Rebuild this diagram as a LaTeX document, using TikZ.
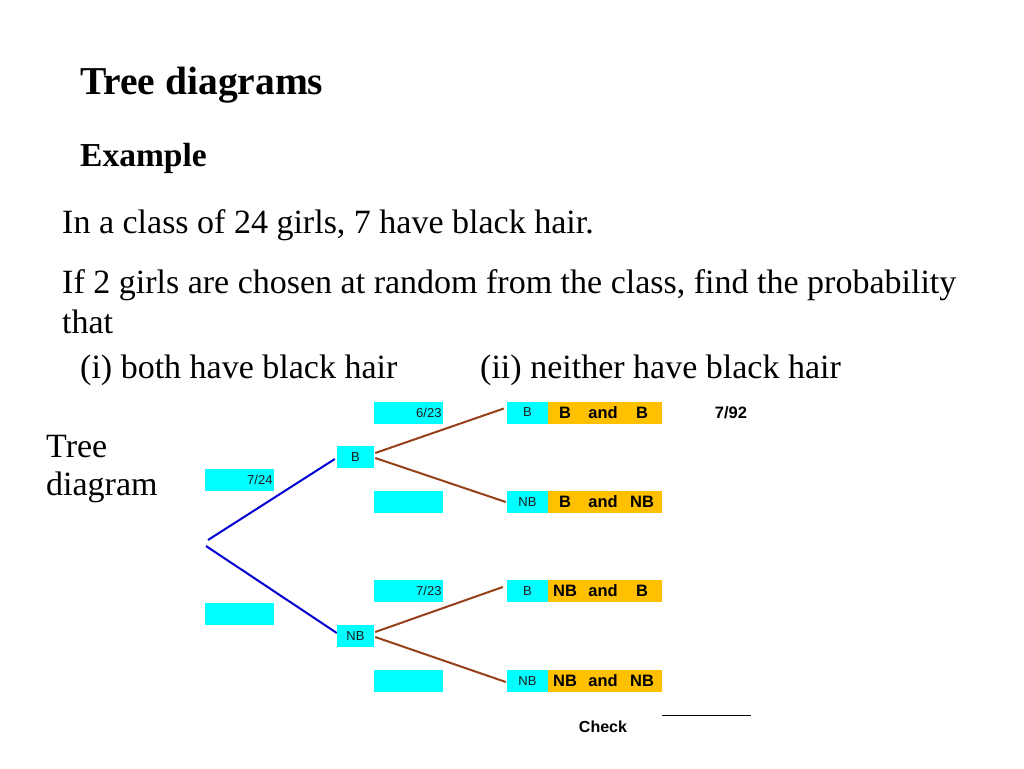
\documentclass[tikz,border=0pt]{standalone}
\usepackage{fontspec}
\setmainfont{Liberation Serif}
\newfontfamily\arial{Liberation Sans}
\usetikzlibrary{calc}
\definecolor{boxcyan}{RGB}{0,255,255}
\definecolor{leaforange}{RGB}{255,192,0}
\definecolor{branchblue}{RGB}{0,0,210}
\definecolor{branchbrown}{RGB}{150,65,25}
\definecolor{smallgray}{RGB}{30,30,30}
\tikzset{
  txt/.style={anchor=base west, inner sep=0pt, font=\fontsize{34}{40}\selectfont},
  probbox/.style={fill=boxcyan, minimum width=69pt, minimum height=22pt, inner sep=0pt,
    text width=66pt, align=right, font=\arial\fontsize{13}{15}\selectfont, text=smallgray},
  catbox/.style={fill=boxcyan, minimum width=37pt, minimum height=22pt, inner sep=0pt,
    font=\arial\fontsize{13}{15}\selectfont, text=smallgray},
  leafbox/.style={fill=boxcyan, minimum width=41pt, minimum height=22pt, inner sep=0pt,
    font=\arial\fontsize{13}{15}\selectfont, text=smallgray},
  outbox/.style={fill=leaforange, minimum width=114pt, minimum height=22pt, inner sep=0pt},
  outtxt/.style={inner sep=0pt, font=\arial\bfseries\fontsize{16.5}{18}\selectfont},
  bluebranch/.style={draw=branchblue, line width=2pt},
  brownbranch/.style={draw=branchbrown, line width=2pt},
}
\begin{document}
\begin{tikzpicture}[x=1pt,y=-1pt]
\path[use as bounding box, fill=white] (0,0) rectangle (1024,768);

% texts
\node[txt, font=\bfseries\fontsize{39.5}{44}\selectfont] (title) at (80,94) {Tree diagrams};
\node[txt, font=\bfseries\fontsize{33.5}{38}\selectfont] (example) at (80,166) {Example};
\node[txt] (l1) at (62,233) {In a class of 24 girls, 7 have black hair.};
\node[txt] (l2) at (62,293) {If 2 girls are chosen at random from the class, find the probability};
\node[txt] (l3) at (62,333) {that};
\node[txt] (q1) at (80,378) {(i) both have black hair};
\node[txt] (q2) at (480,378) {(ii) neither have black hair};
\node[txt] (td1) at (46,457) {Tree};
\node[txt] (td2) at (46,495) {diagram};

% first level probability boxes
\node[probbox] (p1) at (239.5,479.5) {7/24};
\node[probbox] (p2) at (239.5,613.5) {};

% first level outcomes
\node[catbox] (B1) at (355.5,457) {B};
\node[catbox] (N1) at (355.5,636) {NB};

% second level probability boxes
\node[probbox] (p11) at (408.5,412.5) {6/23};
\node[probbox] (p12) at (408.5,502) {};
\node[probbox] (p21) at (408.5,591) {7/23};
\node[probbox] (p22) at (408.5,681) {};

% leaves
\node[leafbox] (L1) at (527.5,412.5) {B};
\node[leafbox] (L2) at (527.5,502) {NB};
\node[leafbox] (L3) at (527.5,591) {B};
\node[leafbox] (L4) at (527.5,681) {NB};
\node[outbox] (O1) at (605,412.5) {};
\node[outbox] (O2) at (605,502) {};
\node[outbox] (O3) at (605,591) {};
\node[outbox] (O4) at (605,681) {};
\foreach \o/\a/\b in {O1/B/B, O2/B/NB, O3/NB/B, O4/NB/NB}{
  \node[outtxt] (\o a) at ($(\o.center)+(-40,0)$) {\a};
  \node[outtxt] (\o m) at ($(\o.center)+(-2,0)$) {and};
  \node[outtxt] (\o b) at ($(\o.center)+(37,0)$) {\b};
}
\node[outtxt] (r1) at (731,412.5) {7/92};

% branches
\coordinate (rootU) at (208,540);
\coordinate (rootD) at (206,546);
\draw[bluebranch] (rootU) -- ($(B1.west)+(-2,2)$);
\draw[bluebranch] (rootD) -- ($(N1.west)+(0,-3)$);
\draw[brownbranch] ($(B1.east)+(1,-4)$) -- ($(L1.west)+(-3,-4)$);
\draw[brownbranch] ($(B1.east)+(1,1)$) -- ($(L2.west)+(-1,0)$);
\draw[brownbranch] ($(N1.east)+(1,-4)$) -- ($(L3.west)+(-4,-4)$);
\draw[brownbranch] ($(N1.east)+(1,1)$) -- ($(L4.west)+(-1,1)$);

% check
\coordinate (c1) at (662,715);
\coordinate (c2) at (751,715);
\draw[line width=1pt] (c1) -- (c2);
\node[outtxt, font=\arial\bfseries\fontsize{16}{18}\selectfont] (check) at (603,727) {Check};
\end{tikzpicture}
\end{document}
